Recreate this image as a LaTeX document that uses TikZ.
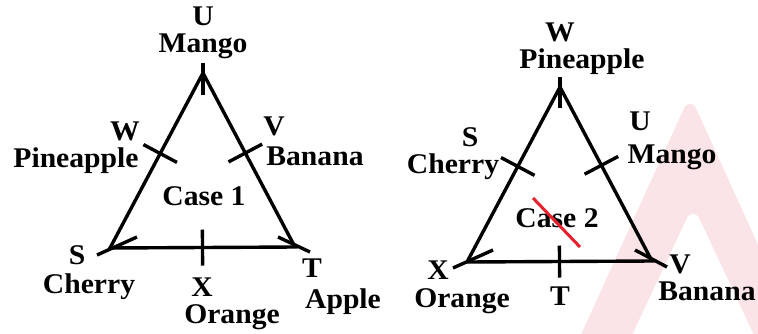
\documentclass[tikz,border=0pt]{standalone}
\usepackage{fontspec}
\setmainfont{Liberation Serif}[BoldFeatures={FakeStretch=1.04}]
\usetikzlibrary{calc}
\definecolor{wm}{RGB}{251,228,231}
\definecolor{strikered}{RGB}{232,32,44}
\begin{document}
\begin{tikzpicture}[x=1pt,y=-1pt,
  lbl/.style={font=\bfseries\fontsize{28.5}{29}\selectfont, inner sep=0pt, anchor=base},
  side/.style={line width=3.4pt},
  tick/.style={line width=3.4pt}]
\useasboundingbox (0,0) rectangle (758,333);
% watermark
\begin{scope}
\clip (0,0) rectangle (758,333);
\fill[wm, even odd rule, rounded corners=16pt]
  (574,350) -- (690,95) -- (806,350) -- cycle
  (625,350) -- (693,205) -- (761,350) -- cycle;
\end{scope}
% ---------- Case 1 ----------
\coordinate (U1) at (203,73);
\coordinate (S1) at (110,248);
\coordinate (T1) at (295,247);
\draw[side] (U1) -- (T1) -- (S1) -- cycle;
% vertex ticks
\draw[tick] ($(U1)+(0,-10)$) -- ($(U1)+(0,22)$);
\draw[tick] ($(S1)+(-13,7)$) -- ($(S1)+(27,-11)$);
\draw[tick] ($(T1)+(-17,-10)$) -- ($(T1)+(15,5)$);
% side ticks
\coordinate (W1) at ($(S1)!0.54!(U1)$);
\coordinate (V1) at ($(T1)!0.54!(U1)$);
\coordinate (X1) at ($(S1)!0.5!(T1)$);
\draw[tick] ($(W1)!19pt!90:(U1)$) -- ($(W1)!19pt!-90:(U1)$);
\draw[tick] ($(V1)!19pt!90:(U1)$) -- ($(V1)!19pt!-90:(U1)$);
\draw[tick] ($(X1)!18pt!90:(T1)$) -- ($(X1)!18pt!-90:(T1)$);
% labels
\node[lbl] (lU1) at (203,25) {U};
\node[lbl] (lMango1) at (203,52.5) {Mango};
\node[lbl] (lW1) at (125,140.5) {W};
\node[lbl] (lPine1) at (76,167.5) {Pineapple};
\node[lbl] (lV1) at (274,135.5) {V};
\node[lbl] (lBan1) at (315,165.5) {Banana};
\node[lbl] (lCase1) at (204,205) {Case 1};
\node[lbl] (lS1) at (77,264) {S};
\node[lbl] (lCh1) at (89,293.5) {Cherry};
\node[lbl] (lX1) at (202,296) {X};
\node[lbl] (lOr1) at (232,323.5) {Orange};
\node[lbl] (lT1) at (312,277) {T};
\node[lbl] (lAp1) at (343,308.5) {Apple};
% ---------- Case 2 ----------
\coordinate (W2) at (560,87);
\coordinate (X2) at (467,262);
\coordinate (V2) at (652,261);
\draw[side] (W2) -- (V2) -- (X2) -- cycle;
\draw[tick] ($(W2)+(0,-10)$) -- ($(W2)+(0,21)$);
\draw[tick] ($(X2)+(-14,6)$) -- ($(X2)+(26,-12)$);
\draw[tick] ($(V2)+(-17,-11)$) -- ($(V2)+(15,6)$);
\coordinate (S2) at ($(X2)!0.546!(W2)$);
\coordinate (U2) at ($(V2)!0.55!(W2)$);
\coordinate (T2) at ($(X2)!0.5!(V2)$);
\draw[tick] ($(S2)!19pt!90:(W2)$) -- ($(S2)!19pt!-90:(W2)$);
\draw[tick] ($(U2)!19pt!90:(W2)$) -- ($(U2)!19pt!-90:(W2)$);
\draw[tick] ($(T2)!16pt!90:(V2)$) -- ($(T2)!16pt!-90:(V2)$);
\node[lbl] (lW2) at (560,41) {W};
\node[lbl] (lPine2) at (582,68.5) {Pineapple};
\node[lbl] (lS2) at (470,146.5) {S};
\node[lbl] (lCh2) at (453,173.5) {Cherry};
\node[lbl] (lU2) at (640,130.5) {U};
\node[lbl] (lMango2) at (672,163.5) {Mango};
\node[lbl] (lCase2) at (557,227) {Case 2};
\node[lbl] (lX2) at (438,279) {X};
\node[lbl] (lOr2) at (462,307.5) {Orange};
\node[lbl] (lT2) at (560,305) {T};
\node[lbl] (lV2) at (680,273.5) {V};
\node[lbl] (lBan2) at (707,300.5) {Banana};
\coordinate (r1) at (533,198);
\coordinate (r2) at (580,247);
\draw[strikered, line width=3pt] (r1) -- (r2);
\end{tikzpicture}
\end{document}
